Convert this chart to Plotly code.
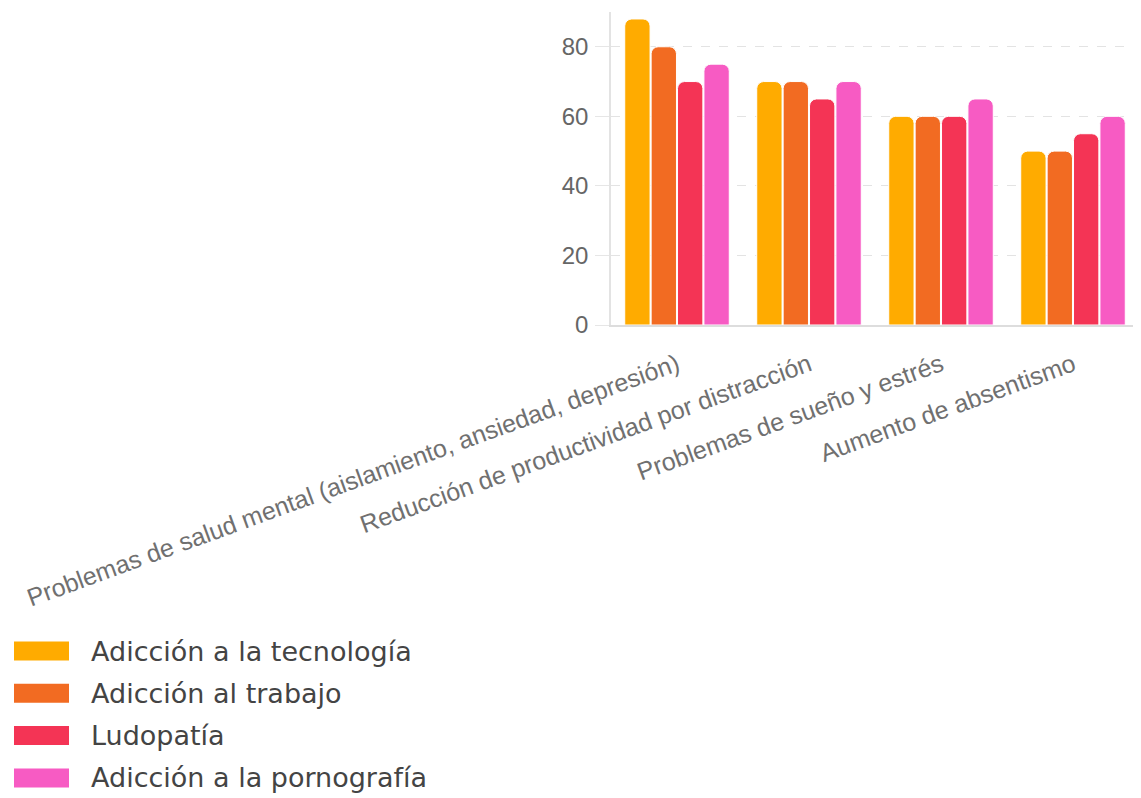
import plotly.graph_objects as go

categories = [
    "Problemas de salud mental (aislamiento, ansiedad, depresión)",
    "Reducción de productividad por distracción",
    "Problemas de sueño y estrés",
    "Aumento de absentismo",
]
series_names = [
    "Adicción a la tecnología",
    "Adicción al trabajo",
    "Ludopatía",
    "Adicción a la pornografía",
]
tecnologia = [88, 70, 60, 50]
trabajo = [80, 70, 60, 50]
ludopatia = [70, 65, 60, 55]
pornografia = [75, 70, 65, 60]
series_values = [tecnologia, trabajo, ludopatia, pornografia]
colors = ["#FFAB00", "#F26B22", "#F43455", "#F75BC3"]
y_ticks = [0, 20, 40, 60, 80]

OFF = 8  # page body margin
W, H = 1141 - OFF, 798 - OFF
ML, MR, MT, MB = 611 - OFF, 2, 12 - OFF, 473
PW, PH = W - ML - MR, H - MT - MB


def px_x(x):
    return (x - OFF - ML) / PW


def px_y(y):
    return 1 - (y - OFF - MT) / PH


fig = go.Figure()
for name, vals, col in zip(series_names, series_values, colors):
    fig.add_trace(go.Bar(
        x=categories, y=vals, name=name,
        marker=dict(color=col, cornerradius=7, line=dict(color="white", width=1)),
        showlegend=False,
    ))

# manual legend
shapes = []
annotations = []
for i, (name, col) in enumerate(zip(series_names, colors)):
    cy = 651 + i * 42.3
    shapes.append(dict(type="rect", xref="paper", yref="paper",
                       x0=px_x(14), x1=px_x(69), y0=px_y(cy - 9.5), y1=px_y(cy + 9.5),
                       fillcolor=col, line=dict(width=0), layer="above"))
    annotations.append(dict(text=name, xref="paper", yref="paper",
                            x=px_x(89), y=px_y(cy), xanchor="left", yanchor="middle",
                            showarrow=False,
                            font=dict(family="DejaVu Sans", size=27, color="#444444")))

fig.update_layout(
    width=W, height=H,
    margin=dict(l=ML, r=MR, t=MT, b=MB, autoexpand=False),
    paper_bgcolor="white", plot_bgcolor="white",
    barmode="group", bargap=0.2, bargroupgap=0.04,
    shapes=shapes, annotations=annotations,
    showlegend=False,
    font=dict(family="Liberation Sans, Arial, sans-serif", color="#666666"),
)
fig.update_xaxes(
    tickangle=-20, tickfont=dict(size=25, color="#707070"),
    showline=True, linecolor="#dddddd", linewidth=1.5,
    showgrid=False, ticks="", automargin=False, ticklabelstandoff=14,
)
fig.update_yaxes(
    range=[0, 90], tickvals=y_ticks, ticktext=[str(v) for v in y_ticks],
    tickfont=dict(size=24, color="#666666"),
    showgrid=True, gridcolor="#e3e3e3", griddash="dash", gridwidth=1,
    showline=True, linecolor="#e3e3e3", linewidth=1.5,
    zeroline=False, ticks="outside", ticklen=14, tickcolor="#e6e6e6",
    ticklabelstandoff=2, automargin=False,
)

fig.write_html("out.html")
